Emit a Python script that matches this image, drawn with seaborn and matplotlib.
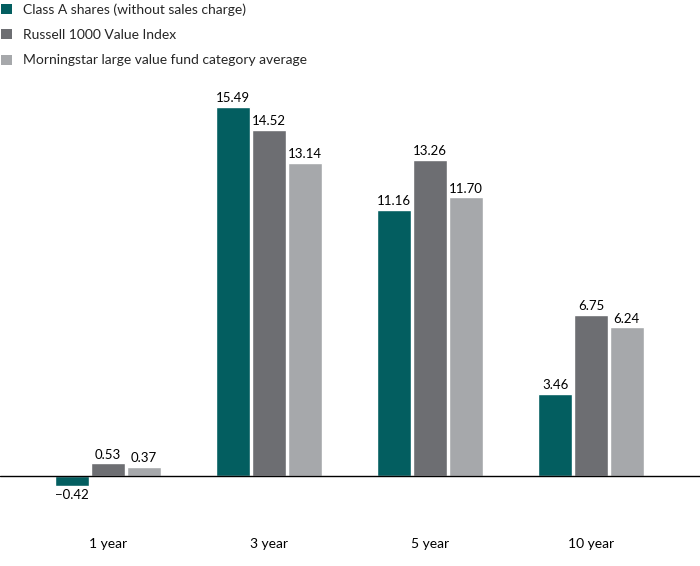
import matplotlib
matplotlib.use("Agg")
import matplotlib.pyplot as plt
import seaborn as sns
import pandas as pd
from matplotlib.patches import Patch

categories = ["1 year", "3 year", "5 year", "10 year"]
series = ["Class A shares (without sales charge)", "Russell 1000 Value Index",
          "Morningstar large value fund category average"]
class_a = [-0.42, 15.49, 11.16, 3.46]
russell = [0.53, 14.52, 13.26, 6.75]
morningstar = [0.37, 13.14, 11.70, 6.24]
colors = ["#035e60", "#6d6e72", "#a6a8ab"]

rows = []
for s, vals in zip(series, [class_a, russell, morningstar]):
    for c, v in zip(categories, vals):
        rows.append({"period": c, "series": s, "value": v})
df = pd.DataFrame(rows)

sns.set_theme(style="white")
plt.rcParams["font.family"] = ["Lato", "DejaVu Sans"]

W, H = 700, 566
fig = plt.figure(figsize=(W / 100, H / 100), dpi=100)
base_px = 476
scale = (476 - 107) / 15.49
bottom_px = 520
ax = fig.add_axes([0, (H - bottom_px) / H, 1, bottom_px / H])

sns.barplot(data=df, x="period", y="value", hue="series", order=categories,
            hue_order=series, palette=colors, width=0.665, gap=0.05,
            saturation=1, errorbar=None, ax=ax, legend=False)

ax.set_ylim(-(bottom_px - base_px) / scale, base_px / scale)
ax.set_xlim(-108 / 161, (700 - 108) / 161)
ax.axhline(0, color="black", lw=1.0)
for sp in ax.spines.values():
    sp.set_visible(False)
ax.set_yticks([])
ax.set_xlabel("")
ax.set_ylabel("")
ax.tick_params(axis="x", length=0, pad=13, labelsize=10, labelcolor="black")

for cont in ax.containers:
    for bar in cont:
        h = bar.get_height()
        xc = bar.get_x() + bar.get_width() / 2
        if h >= 0:
            ax.annotate(f"{h:.2f}", (xc, h), xytext=(0, 2), textcoords="offset points",
                        ha="center", va="bottom", fontsize=9.5, color="black")
        else:
            ax.annotate(f"\u2212{abs(h):.2f}", (xc, h), xytext=(0, -2), textcoords="offset points",
                        ha="center", va="top", fontsize=9.5, color="black")

handles = [Patch(facecolor=c, edgecolor="none") for c in colors]
fig.legend(handles, series, loc="upper left", bbox_to_anchor=(-0.012, 1.011),
           frameon=False, fontsize=10, handlelength=0.75, handleheight=0.75,
           handletextpad=0.8, labelspacing=0.95, borderpad=0.2)

fig.savefig("out.png", dpi=100)
